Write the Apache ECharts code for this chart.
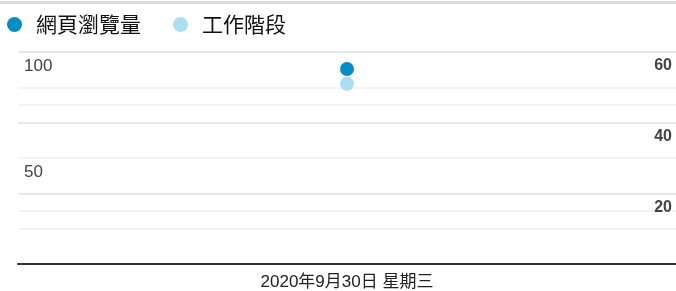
<!DOCTYPE html>
<html>
<head>
<meta charset="utf-8">
<script src="https://cdn.jsdelivr.net/npm/echarts@6/dist/echarts.min.js"></script>
<style>
  html, body { margin: 0; padding: 0; background: #fff; }
  #chart { width: 676px; height: 291px; }
</style>
</head>
<body>
<div id="chart"></div>
<script>
// data
const categories = ["2020年9月30日 星期三"];
const pageViews = [92];   // 網頁瀏覽量, left axis
const sessions = [51];    // 工作階段, right axis
const leftAxisRange = [0, 100, 50];
const rightAxisRange = [0, 60, 20];

const darkBlue = "#058dc7";
const lightBlue = "#aadff3";
const font = "Arial, 'Liberation Sans', 'Noto Sans CJK TC', sans-serif";

const chart = echarts.init(document.getElementById("chart"));

const splitStyle = { show: true, lineStyle: { color: "#e8e8e8", width: 2 } };
const minorStyle = { show: true, lineStyle: { color: "#f4f4f4", width: 2 } };

const option = {
    animation: false,
    textStyle: { fontFamily: font },
    graphic: [
        {
            type: "rect",
            shape: { x: 0, y: 1, width: 676, height: 3 },
            style: { fill: "#dcdcdc" },
            silent: true,
        },
    ],
    legend: {
        left: 2,
        top: 9,
        itemWidth: 15,
        itemHeight: 15,
        itemGap: 32,
        icon: "circle",
        textStyle: {
            fontSize: 21,
            color: "#111",
            fontWeight: "normal",
            padding: [0, 0, 0, 9],
            fontFamily: "'Noto Sans CJK TC', sans-serif",
        },
        data: ["網頁瀏覽量", "工作階段"],
    },
    grid: { left: 18, right: 0, top: 52, bottom: 24, containLabel: false },
    xAxis: {
        type: "category",
        data: categories,
        boundaryGap: true,
        axisTick: { show: false },
        axisLine: { lineStyle: { color: "#333", width: 2 } },
        axisLabel: { color: "#222", fontSize: 17, margin: 10 },
        splitLine: { show: false },
    },
    yAxis: [
        {
            type: "value",
            min: leftAxisRange[0],
            max: leftAxisRange[1],
            interval: leftAxisRange[2],
            position: "left",
            axisLine: { show: false },
            axisTick: { show: false },
            axisLabel: {
                inside: true,
                margin: 6,
                showMinLabel: false,
                verticalAlign: "top",
                padding: [6, 0, 0, 0],
                color: "#444",
                fontSize: 17,
            },
            splitLine: splitStyle,
            minorTick: { show: false, splitNumber: 2 },
            minorSplitLine: minorStyle,
        },
        {
            type: "value",
            min: rightAxisRange[0],
            max: rightAxisRange[1],
            interval: rightAxisRange[2],
            position: "right",
            axisLine: { show: false },
            axisTick: { show: false },
            axisLabel: {
                inside: true,
                margin: 4,
                showMinLabel: false,
                verticalAlign: "top",
                padding: [6, 0, 0, 0],
                color: "#444",
                fontWeight: "bold",
                fontSize: 16,
            },
            splitLine: splitStyle,
            minorTick: { show: false, splitNumber: 2 },
            minorSplitLine: minorStyle,
        },
    ],
    series: [
        {
            name: "工作階段",
            type: "line",
            yAxisIndex: 1,
            data: sessions,
            symbol: "circle",
            symbolSize: 14,
            itemStyle: { color: lightBlue },
            lineStyle: { color: lightBlue },
        },
        {
            name: "網頁瀏覽量",
            type: "line",
            yAxisIndex: 0,
            data: pageViews,
            symbol: "circle",
            symbolSize: 14,
            itemStyle: { color: darkBlue },
            lineStyle: { color: darkBlue },
        },
    ],
};

chart.setOption(option);
</script>
</body>
</html>
